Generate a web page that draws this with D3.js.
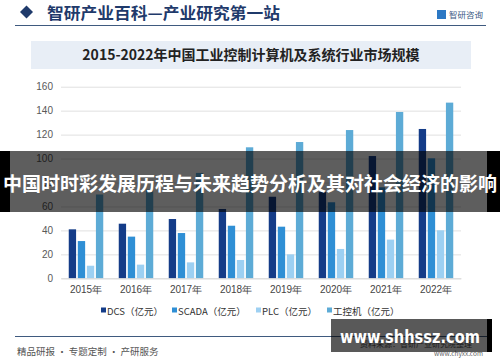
<!DOCTYPE html>
<html>
<head>
<meta charset="utf-8">
<script src="https://cdn.jsdelivr.net/npm/d3@7"></script>
<style>
  body { margin: 0; background: #fff; }
  svg { display: block; font-family: "Noto Sans CJK SC", "Noto Sans", sans-serif; }
</style>
</head>
<body>
<div id="chart"></div>
<script>
// chart data
var years = ["2015年", "2016年", "2017年", "2018年", "2019年", "2020年", "2021年", "2022年"];
var seriesNames = ["DCS（亿元）", "SCADA（亿元）", "PLC（亿元）", "工控机（亿元）"];
var dcs = [40.9, 45.6, 49.5, 57.9, 68.1, 72, 102.1, 124.7];
var scada = [31.1, 34.8, 37.8, 43.9, 43.1, 63.5, 76, 100.2];
var plc = [10.5, 11.4, 13.3, 15.3, 20.0, 24.5, 32.3, 40.1];
var ipc = [70, 74, 88, 109.4, 113.8, 123.8, 138.9, 146.7];
var yTicks = [0, 20, 40, 60, 80, 100, 120, 140, 160];

var colors = ["#143c88", "#2f8fd5", "#9dd0f2", "#5dabd6"];
var values = [dcs, scada, plc, ipc];

var svgWidth = 500, svgHeight = 362;

var svg = d3.select("#chart")
  .append("svg")
  .attr("width", svgWidth)
  .attr("height", svgHeight);

// header
svg.append("path")
  .attr("d", "M20,12 L26.5,5.5 L33,12 L26.5,18.5 Z")
  .attr("fill", "#1f3a6b");
svg.append("text")
  .attr("x", 47).attr("y", 19)
  .attr("font-size", 16).attr("font-weight", "bold")
  .attr("fill", "#1f3a6b")
  .attr("textLength", 233).attr("lengthAdjust", "spacingAndGlyphs")
  .text("智研产业百科—产业研究第一站");
svg.append("rect").attr("x", 437).attr("y", 10).attr("width", 9).attr("height", 9).attr("fill", "#2c78c4");
svg.append("text")
  .attr("x", 449).attr("y", 18)
  .attr("font-size", 8.5).attr("fill", "#3b5a85")
  .text("智研咨询");
svg.append("line")
  .attr("x1", 15).attr("x2", 486).attr("y1", 25.5).attr("y2", 25.5)
  .attr("stroke", "#3f5a7f").attr("stroke-width", 1);

// title box
svg.append("rect")
  .attr("x", 31).attr("y", 41).attr("width", 440).attr("height", 28)
  .attr("fill", "#e8eef6");
svg.append("text")
  .attr("x", 251).attr("y", 60)
  .attr("text-anchor", "middle")
  .attr("font-size", 14).attr("font-weight", "bold")
  .attr("fill", "#222")
  .text("2015-2022年中国工业控制计算机及系统行业市场规模");

// scales
var x0 = d3.scaleBand().domain(years).range([61, 461]).paddingInner(0.31).paddingOuter(0.155);
var x1 = d3.scaleBand().domain(d3.range(4)).range([0, x0.bandwidth()]).paddingInner(0.19).paddingOuter(0);
var y = d3.scaleLinear().domain([0, 160]).range([278.3, 86.7]);

// gridlines
var grid = svg.append("g")
  .attr("transform", "translate(61,0)")
  .call(d3.axisLeft(y).tickValues(yTicks).tickSize(-400).tickFormat(""));
grid.select(".domain").remove();
grid.selectAll("line").attr("stroke", "#e0e0e0");

// y labels
var yAxis = svg.append("g")
  .attr("transform", "translate(53,0)")
  .call(d3.axisLeft(y).tickValues(yTicks).tickSize(0).tickPadding(0));
yAxis.select(".domain").remove();
yAxis.selectAll("text")
  .attr("font-family", "Arial, 'Liberation Sans', sans-serif")
  .attr("font-size", 10).attr("fill", "#595959");

// bars
var groups = svg.append("g").selectAll("g")
  .data(years)
  .enter().append("g")
  .attr("transform", d => `translate(${x0(d)},0)`);

groups.selectAll("rect")
  .data((d, i) => values.map((s, k) => ({ k: k, v: s[i] })))
  .enter().append("rect")
  .attr("x", d => x1(d.k))
  .attr("width", x1.bandwidth())
  .attr("y", d => y(d.v))
  .attr("height", d => y(0) - y(d.v))
  .attr("fill", d => colors[d.k]);

// x axis
var xAxis = svg.append("g")
  .attr("transform", `translate(0,${y(0)})`)
  .call(d3.axisBottom(x0).tickSize(0).tickPadding(8));
xAxis.select(".domain").attr("stroke", "#d9d9d9");
xAxis.selectAll("text")
  .attr("font-size", 10).attr("fill", "#444");

// legend
var legendX = [101, 172, 256, 327];
var legend = svg.append("g").selectAll("g")
  .data(seriesNames)
  .enter().append("g")
  .attr("transform", (d, i) => `translate(${legendX[i]},311)`);
legend.append("rect")
  .attr("x", 0).attr("y", -3.5).attr("width", 5).attr("height", 5)
  .attr("fill", (d, i) => colors[i]);
legend.append("text")
  .attr("x", 6).attr("y", 3.5)
  .attr("font-size", 9.5).attr("fill", "#333")
  .text(d => d);

// footer
svg.append("line")
  .attr("x1", 15).attr("x2", 487).attr("y1", 336.5).attr("y2", 336.5)
  .attr("stroke", "#3f5a7f").attr("stroke-width", 1);
svg.append("text")
  .attr("x", 17).attr("y", 355)
  .attr("font-size", 9.5).attr("fill", "#555")
  .text("精品研报 · 专题定制 · 产研服务");
svg.append("text")
  .attr("x", 360).attr("y", 347)
  .attr("font-size", 8).attr("fill", "#555")
  .text("资料来源：智研产业研究院整理");
svg.append("text")
  .attr("x", 483).attr("y", 356)
  .attr("text-anchor", "end")
  .attr("font-size", 6.5).attr("fill", "#666")
  .text("www.chyxx.com");

// overlay banner
svg.append("rect").attr("x", 0).attr("y", 151).attr("width", 10).attr("height", 61).attr("fill", "#000");
svg.append("rect").attr("x", 487).attr("y", 151).attr("width", 13).attr("height", 61).attr("fill", "#000");
svg.append("rect").attr("x", 10).attr("y", 151).attr("width", 477).attr("height", 61).attr("fill", "rgba(0,0,0,0.63)");
svg.append("text")
  .attr("x", 250).attr("y", 191)
  .attr("text-anchor", "middle")
  .attr("font-size", 19).attr("font-weight", "bold")
  .attr("fill", "#fff")
  .attr("textLength", 494).attr("lengthAdjust", "spacingAndGlyphs")
  .text("中国时时彩发展历程与未来趋势分析及其对社会经济的影响");

// overlay url box
svg.append("rect").attr("x", 331).attr("y", 319).attr("width", 156).attr("height", 33).attr("fill", "rgba(0,0,0,0.65)");
svg.append("rect").attr("x", 487).attr("y", 319).attr("width", 5).attr("height", 33).attr("fill", "#000");
svg.append("text")
  .attr("x", 410).attr("y", 343)
  .attr("text-anchor", "middle")
  .attr("font-family", "'DejaVu Sans', sans-serif")
  .attr("font-size", 18).attr("font-weight", "bold")
  .attr("fill", "#fff")
  .attr("textLength", 140).attr("lengthAdjust", "spacingAndGlyphs")
  .text("www.shhssz.com");
</script>
</body>
</html>
